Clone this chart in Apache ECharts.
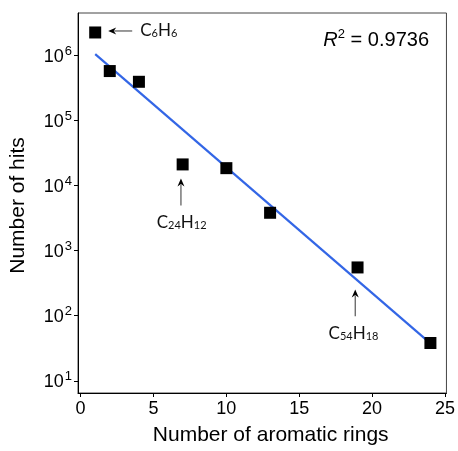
<!DOCTYPE html>
<html><head><meta charset="utf-8">
<script src="https://cdn.jsdelivr.net/npm/echarts@6/dist/echarts.min.js"></script>
<style>html,body{margin:0;padding:0;background:#fff}#c{width:458px;height:451px}</style>
</head><body><div id="c"></div>
<script>
// data
const ringCounts = [1, 2, 4, 7, 10, 13, 19, 24];
const hitCounts = [2.23e6, 5.7e5, 3.9e5, 2.1e4, 1.84e4, 3.8e3, 550, 38];
const fitX = [1, 24];
const fitY = [1.04e6, 37.5];
const xTicks = [0, 5, 10, 15, 20, 25];
const yTicks = [10, 100, 1000, 1e4, 1e5, 1e6];
const rSquared = '0.9736';
const annoFormula = [['C','6','H','6'], ['C','24','H','12'], ['C','54','H','18']];
const annoX = [1, 7, 19];
const annoY = [2.23e6, 2.1e4, 550];

const AX_FONT = 'Liberation Sans, Arial, sans-serif';
const ANNO_FONT = 'Lato, Open Sans, sans-serif';

const chart = echarts.init(document.getElementById('c'), null, {renderer: 'canvas'});
chart.setOption({
  animation: false,
  backgroundColor: '#fff',
  grid: {left: 78, top: 13, right: 9, bottom: 57, show: true, borderColor: '#444', borderWidth: 1, containLabel: false},
  xAxis: {
    type: 'value', min: -0.18, max: 25.1,
    name: 'Number of aromatic rings', nameLocation: 'middle', nameGap: 32,
    nameTextStyle: {fontFamily: AX_FONT, fontSize: 21, color: '#000', padding: [0, 0, 0, 17]},
    axisLine: {show: true, onZero: false, lineStyle: {color: '#000', width: 1}},
    axisTick: {show: true, length: 4, inside: false, lineStyle: {color: '#000'}, customValues: xTicks},
    axisLabel: {customValues: xTicks, fontFamily: AX_FONT, fontSize: 18, color: '#000', margin: 7},
    splitLine: {show: false}
  },
  yAxis: {
    type: 'log', logBase: 10, min: 6.49, max: 4.44e6,
    name: 'Number of hits', nameLocation: 'middle', nameGap: 49,
    nameTextStyle: {fontFamily: AX_FONT, fontSize: 21, color: '#000', padding: [0, 5, 0, 0]},
    axisLine: {show: true, onZero: false, lineStyle: {color: '#000', width: 1}},
    axisTick: {show: true, length: 4, lineStyle: {color: '#000'}, customValues: yTicks},
    axisLabel: {
      customValues: yTicks, margin: 6,
      formatter: v => '{b|10}{s|' + Math.round(Math.log10(v)) + '}',
      rich: {
        b: {fontFamily: AX_FONT, fontSize: 18, color: '#000', verticalAlign: 'bottom'},
        s: {fontFamily: AX_FONT, fontSize: 13, color: '#000', verticalAlign: 'bottom', padding: [0, 0, 8, 1]}
      }
    },
    splitLine: {show: false}
  },
  series: [
    {
      type: 'line', data: fitX.map((x, i) => [x, fitY[i]]),
      showSymbol: false, symbol: 'none',
      lineStyle: {color: '#3366e6', width: 2.2}, z: 2, silent: true
    },
    {
      type: 'scatter', data: ringCounts.map((x, i) => [x, hitCounts[i]]),
      symbol: 'rect', symbolSize: 12,
      itemStyle: {color: '#000', opacity: 1}, z: 3, silent: true
    }
  ]
});

function arrow(x1, y1, x2, y2) {
  const dx = x2 - x1, dy = y2 - y1, L = Math.hypot(dx, dy);
  const ux = dx / L, uy = dy / L, hl = 8, hw = 3.5;
  const bx = x2 - ux * hl, by = y2 - uy * hl;
  return [
    {type: 'line', shape: {x1, y1, x2: bx + ux * 2, y2: by + uy * 2}, style: {stroke: '#555', lineWidth: 1.2}, z: 10},
    {type: 'polygon', shape: {points: [[x2, y2], [bx - uy * hw, by + ux * hw], [bx + ux * 2.5, by + uy * 2.5], [bx + uy * hw, by - ux * hw]]}, style: {fill: '#000'}, z: 10}
  ];
}
function formulaText(parts) {
  return parts.map((p, i) => (i % 2 === 0 ? '{m|' : '{s|') + p + '}').join('');
}
const annoRich = {
  m: {fontFamily: ANNO_FONT, fontSize: 17, fill: '#111', verticalAlign: 'bottom'},
  s: {fontFamily: ANNO_FONT, fontSize: 11, fill: '#111', verticalAlign: 'bottom'}
};
const layout = [
  {tail: [37, -1.5], tip: [13, -1.5], text: [45, -2], align: 'left'},
  {tail: [-1.7, 41], tip: [-1.7, 14], text: [-1, 58], align: 'center'},
  {tail: [-2.3, 48.7], tip: [-2.3, 22], text: [-4, 66], align: 'center'}
];
const graphics = [];
annoX.forEach((x, i) => {
  const p = chart.convertToPixel({gridIndex: 0}, [x, annoY[i]]);
  const L = layout[i];
  graphics.push(...arrow(p[0] + L.tail[0], p[1] + L.tail[1], p[0] + L.tip[0], p[1] + L.tip[1]));
  graphics.push({
    type: 'text', x: p[0] + L.text[0], y: p[1] + L.text[1], z: 10,
    style: {text: formulaText(annoFormula[i]), rich: annoRich, align: L.align, verticalAlign: 'middle'}
  });
});
graphics.push({
  type: 'text', x: 429, y: 39, z: 10,
  style: {
    text: '{i|R}{s|2}{n| = ' + rSquared + '}', align: 'right', verticalAlign: 'middle',
    rich: {
      i: {fontFamily: AX_FONT, fontSize: 20, fontStyle: 'italic', fill: '#000', verticalAlign: 'bottom'},
      s: {fontFamily: AX_FONT, fontSize: 13, fill: '#000', verticalAlign: 'bottom', padding: [0, 0, 9, 0]},
      n: {fontFamily: AX_FONT, fontSize: 20, fill: '#000', verticalAlign: 'bottom'}
    }
  }
});
chart.setOption({graphic: graphics});
</script>
</body></html>
